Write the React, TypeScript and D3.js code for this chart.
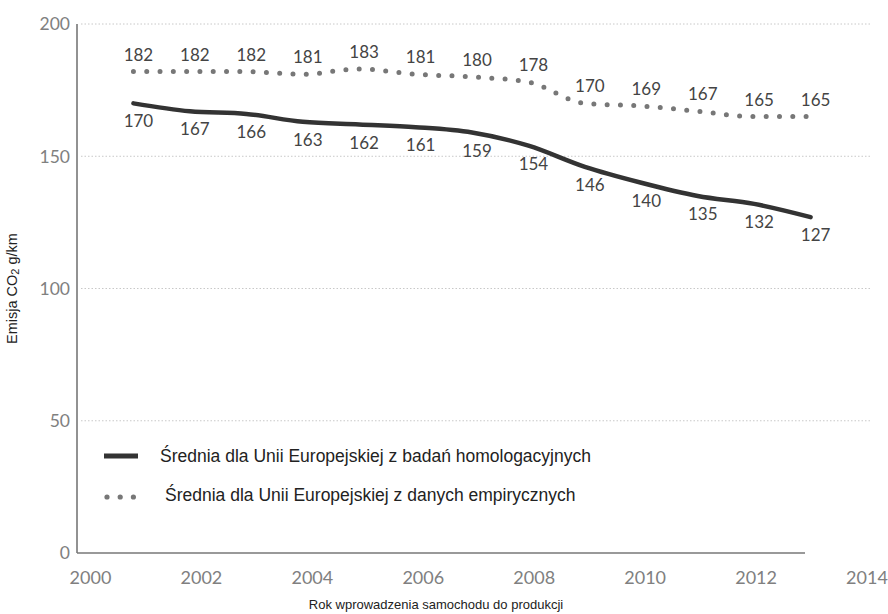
import React from 'react';
import * as d3 from 'd3';

const years = [2001, 2002, 2003, 2004, 2005, 2006, 2007, 2008, 2009, 2010, 2011, 2012, 2013];
const homologationValues = [170, 167, 166, 163, 162, 161, 159, 154, 146, 140, 135, 132, 127];
const empiricalValues = [182, 182, 182, 181, 183, 181, 180, 178, 170, 169, 167, 165, 165];
const yTicks = [0, 50, 100, 150, 200];
const xTicks = [2000, 2002, 2004, 2006, 2008, 2010, 2012, 2014];
const legendLabels = [
  'Średnia dla Unii Europejskiej z badań homologacyjnych',
  'Średnia dla Unii Europejskiej z danych empirycznych',
];

const W = 888;
const H = 614;
const labelFont = 'Lato, "Open Sans", sans-serif';
const textFont = '"Liberation Sans", Arial, sans-serif';

const App = () => {
  const x = d3.scaleLinear().domain([2000, 2014]).range([77, 867]);
  // tick labels sit on their own slightly narrower spacing in the original
  const xLabel = d3.scaleLinear().domain([2000, 2014]).range([90.5, 867]);
  const y = d3.scaleLinear().domain([0, 200]).range([553, 24]);

  const line = d3
    .line<number>()
    .x((_, i) => x(years[i]))
    .y((d) => y(d))
    .curve(d3.curveMonotoneX);

  return (
    <svg width={W} height={H} style={{position: 'absolute', left: 0, top: 0, background: '#fff'}}>
      {/* gridlines */}
      {yTicks.filter((t) => t > 0).map((t) => (
        <line key={'g' + t} x1={81} x2={870} y1={y(t)} y2={y(t)}
          stroke="#c8c8c8" strokeWidth={1} strokeDasharray="1.5 2" />
      ))}
      {/* axes */}
      <line x1={x(2000)} x2={x(2000)} y1={y(200)} y2={y(0)} stroke="#777" strokeWidth={1.6} />
      <line x1={x(2000)} x2={805} y1={y(0)} y2={y(0)} stroke="#777" strokeWidth={1.6} />
      {yTicks.map((t) => (
        <text key={'y' + t} x={70} y={y(t)} dy="0.36em" textAnchor="end"
          fontFamily={labelFont} fontSize={17.5} fill="#808080">{t}</text>
      ))}
      {xTicks.map((t) => (
        <text key={'x' + t} x={xLabel(t)} y={584} textAnchor="middle"
          fontFamily={labelFont} fontSize={18} fill="#808080">{t}</text>
      ))}
      <text transform={`translate(17,${y(100)}) rotate(-90)`} textAnchor="middle"
        fontFamily={textFont} fontSize={14.5} fill="#222">
        Emisja CO<tspan fontSize={11} dy={2}>2</tspan><tspan dy={-2}> g/km</tspan>
      </text>
      <text x={436} y={609} textAnchor="middle" fontFamily={textFont} fontSize={13} fill="#222">
        Rok wprowadzenia samochodu do produkcji
      </text>

      {/* series */}
      <path d={line(empiricalValues) || ''} fill="none" stroke="#777" strokeWidth={5}
        strokeLinecap="round" strokeDasharray="0 13.3" />
      <path d={line(homologationValues) || ''} fill="none" stroke="#333" strokeWidth={4.5}
        strokeLinecap="round" />

      {empiricalValues.map((v, i) => (
        <text key={'e' + i} x={x(years[i]) + 5} y={y(v) - 17} dy="0.36em" textAnchor="middle"
          fontFamily={labelFont} fontSize={17} fill="#444">{v}</text>
      ))}
      {homologationValues.map((v, i) => (
        <text key={'h' + i} x={x(years[i]) + 5} y={y(v) + 18} dy="0.36em" textAnchor="middle"
          fontFamily={labelFont} fontSize={17} fill="#444">{v}</text>
      ))}

      {/* legend */}
      <line x1={104} x2={138} y1={456} y2={456} stroke="#333" strokeWidth={5} />
      <text x={160} y={462} fontFamily={textFont} fontSize={17.5} fill="#222">{legendLabels[0]}</text>
      {[0, 1, 2].map((k) => (
        <circle key={'d' + k} cx={107 + k * 13.2} cy={497} r={2.6} fill="#777" />
      ))}
      <text x={165} y={501} fontFamily={textFont} fontSize={17.5} fill="#222">{legendLabels[1]}</text>
    </svg>
  );
};

export default App;
